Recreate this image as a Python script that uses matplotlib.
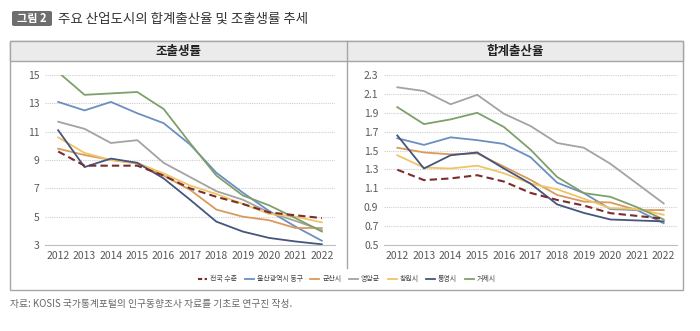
import matplotlib
matplotlib.use('Agg')
import matplotlib.pyplot as plt
from matplotlib.patches import Rectangle, FancyBboxPatch
from matplotlib.lines import Line2D

plt.rcParams['font.family'] = ['Noto Sans CJK KR', 'DejaVu Sans']

years = list(range(2012, 2023))
regions = ['전국 수준', '울산광역시 동구', '군산시', '영암군', '창원시', '통영시', '거제시']
colors = ['#7b2d2d', '#6b8fc0', '#d99a5e', '#a3a3a3', '#f0c566', '#44557f', '#7fa06a']

# 조출생률
cbr = {
    '전국 수준': [9.6, 8.6, 8.6, 8.6, 7.9, 7.0, 6.4, 5.9, 5.3, 5.1, 4.9],
    '울산광역시 동구': [13.1, 12.5, 13.1, 12.3, 11.6, 10.1, 8.1, 6.7, 5.4, 4.3, 3.3],
    '군산시': [9.8, 9.35, 9.0, 8.75, 7.9, 6.9, 5.5, 5.0, 4.75, 4.2, 4.2],
    '영암군': [11.7, 11.2, 10.2, 10.4, 8.8, 7.8, 6.8, 6.2, 5.3, 4.7, 4.05],
    '창원시': [10.6, 9.5, 9.0, 8.8, 8.05, 7.2, 6.6, 5.9, 5.2, 5.0, 4.6],
    '통영시': [11.1, 8.5, 9.1, 8.8, 7.7, 6.2, 4.65, 3.95, 3.5, 3.25, 3.05],
    '거제시': [15.2, 13.6, 13.7, 13.8, 12.6, 10.2, 7.9, 6.5, 5.8, 4.9, 3.95],
}

# 합계출산율
tfr = {
    '전국 수준': [1.297, 1.187, 1.205, 1.239, 1.172, 1.052, 0.977, 0.918, 0.837, 0.808, 0.778],
    '울산광역시 동구': [1.63, 1.56, 1.64, 1.61, 1.57, 1.43, 1.16, 1.05, 0.88, 0.87, 0.73],
    '군산시': [1.53, 1.48, 1.46, 1.47, 1.33, 1.19, 1.03, 0.96, 0.95, 0.87, 0.87],
    '영암군': [2.17, 2.13, 1.99, 2.09, 1.89, 1.76, 1.58, 1.53, 1.36, 1.15, 0.94],
    '창원시': [1.45, 1.32, 1.31, 1.34, 1.26, 1.15, 1.09, 0.99, 0.89, 0.88, 0.82],
    '통영시': [1.66, 1.31, 1.45, 1.48, 1.31, 1.15, 0.93, 0.84, 0.77, 0.76, 0.75],
    '거제시': [1.96, 1.78, 1.83, 1.90, 1.75, 1.51, 1.22, 1.05, 1.01, 0.90, 0.77],
}

W, H = 700, 331
fig = plt.figure(figsize=(W / 100, H / 100), dpi=100)


def fx(px):
    return px / W


def fy(py):
    return 1 - py / H


# title
fig.patches.append(FancyBboxPatch((fx(12), fy(26)), fx(40), 15 / H, boxstyle='round,pad=0,rounding_size=0.004',
                                  transform=fig.transFigure, facecolor='#6e6e6e', edgecolor='none'))
fig.text(fx(32), fy(18.5), '그림 2', color='white', fontsize=8, fontweight='bold', ha='center', va='center')
fig.text(fx(58), fy(18.5), '주요 산업도시의 합계출산율 및 조출생률 추세', color='#333333', fontsize=9.7,
         ha='left', va='center')

# outer frame and header
fig.patches.append(Rectangle((fx(10), fy(290)), fx(673), 249 / H, transform=fig.transFigure,
                             facecolor='none', edgecolor='#a6a6a6', lw=1.0))
fig.patches.append(Rectangle((fx(10), fy(61)), fx(673), 20 / H, transform=fig.transFigure,
                             facecolor='#ebebeb', edgecolor='#a6a6a6', lw=1.0))
fig.lines.append(Line2D([fx(347), fx(347)], [fy(41), fy(268)], transform=fig.transFigure,
                        color='#a6a6a6', lw=1.0))
fig.text(fx(178), fy(51), '조출생률', fontsize=9, fontweight='bold', ha='center', va='center', color='#222222')
fig.text(fx(515), fy(51), '합계출산율', fontsize=9, fontweight='bold', ha='center', va='center', color='#222222')


def draw(ax, data, ylim, yticks, fmt):
    for name, c in zip(regions, colors):
        if name == '전국 수준':
            ax.plot(years, data[name], color=c, lw=1.5, ls=(0, (3.5, 2)), zorder=5)
        else:
            ax.plot(years, data[name], color=c, lw=1.3)
    ax.set_xlim(2011.5, 2022.5)
    ax.set_ylim(*ylim)
    ax.set_yticks(yticks)
    ax.set_yticklabels([fmt.format(v) for v in yticks])
    ax.set_xticks(years)
    ax.grid(axis='y', color='#cfcfcf', ls=(0, (1, 1)), lw=0.8)
    ax.set_axisbelow(True)
    for s in ['top', 'right', 'left']:
        ax.spines[s].set_visible(False)
    ax.spines['bottom'].set_color('#bfbfbf')
    ax.tick_params(length=0, labelsize=7.5, colors='#595959', pad=4)
    ax.set_facecolor('none')


ax1 = fig.add_axes([fx(45), fy(245), fx(290), 170 / H])
draw(ax1, cbr, (3, 15), [3, 5, 7, 9, 11, 13, 15], '{:g}')

ax2 = fig.add_axes([fx(384), fy(245), fx(293), 170 / H])
draw(ax2, tfr, (0.5, 2.3), [0.5, 0.7, 0.9, 1.1, 1.3, 1.5, 1.7, 1.9, 2.1, 2.3], '{:.1f}')

handles = []
for name, c in zip(regions, colors):
    if name == '전국 수준':
        handles.append(Line2D([], [], color=c, lw=1.5, ls=(0, (2, 1.2))))
    else:
        handles.append(Line2D([], [], color=c, lw=1.3))
fig.legend(handles, regions, loc='center', bbox_to_anchor=(fx(347), fy(279)), ncol=7, frameon=False,
           fontsize=5, handlelength=1.3, handletextpad=0.4, columnspacing=1.1, labelcolor='#444444')

fig.text(fx(10), fy(304), '자료: KOSIS 국가통계포털의 인구동향조사 자료를 기초로 연구진 작성.', fontsize=7,
         color='#666666', ha='left', va='center')

fig.savefig('out.png', dpi=100, facecolor='white')
